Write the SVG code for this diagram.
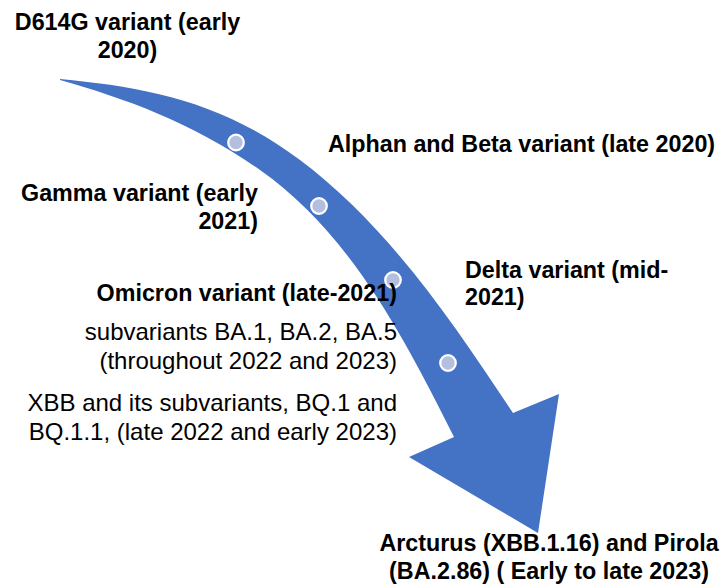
<svg xmlns="http://www.w3.org/2000/svg" width="723" height="587" viewBox="0 0 723 587">
  <style>
    .b { font-family: "Liberation Sans", Arial, sans-serif; font-weight: bold; font-size: 23.3px; fill: #000; }
    .r { font-family: "Liberation Sans", Arial, sans-serif; font-size: 24px; fill: #000; }
    .dot { fill: #B4BFE0; stroke: #fff; stroke-width: 2.2; }
  </style>
  <rect width="723" height="587" fill="#fff"/>

  <!-- curved timeline arrow: outer edge, arrowhead, inner edge back to the pointed tail -->
  <g id="connectors">
    <path id="timeline-arrow" fill="#4472C4"
      d="M60,79 C143,87 220,100 300,160 C388,226 452,321 513,413
         L559,394 L538,533 L409,457 L454,437
         C405,339 350,233 260,170 C193,123 127,99 60,80 Z"/>
  </g>

  <!-- milestone dots -->
  <g id="dot-1"><circle class="dot" cx="236" cy="142.5" r="7.8"/></g>
  <g id="dot-2"><circle class="dot" cx="319" cy="206" r="7.8"/></g>
  <g id="dot-3"><circle class="dot" cx="393" cy="280" r="7.8"/></g>
  <g id="dot-4"><circle class="dot" cx="448" cy="363" r="7.8"/></g>

  <g id="d614g">
    <text class="b" text-anchor="middle" x="127.5" y="30">D614G variant (early</text>
    <text class="b" text-anchor="middle" x="127.5" y="58">2020)</text>
  </g>
  <g id="alpha-beta">
    <text class="b" x="328" y="151.5">Alphan and Beta variant (late 2020)</text>
  </g>
  <g id="gamma">
    <text class="b" text-anchor="end" x="258" y="201">Gamma variant (early</text>
    <text class="b" text-anchor="end" x="258" y="229">2021)</text>
  </g>
  <g id="delta">
    <text class="b" x="465" y="278">Delta variant (mid-</text>
    <text class="b" x="465" y="305">2021)</text>
  </g>
  <g id="omicron">
    <text class="b" text-anchor="end" x="397" y="301">Omicron variant (late-2021)</text>
    <text class="r" text-anchor="end" x="397" y="340">subvariants BA.1, BA.2, BA.5</text>
    <text class="r" text-anchor="end" x="397" y="369">(throughout 2022 and 2023)</text>
    <text class="r" text-anchor="end" x="397" y="411">XBB and its subvariants, BQ.1 and</text>
    <text class="r" text-anchor="end" x="397" y="440">BQ.1.1, (late 2022 and early 2023)</text>
  </g>
  <g id="arcturus-pirola">
    <text class="b" text-anchor="middle" x="549" y="551">Arcturus (XBB.1.16) and Pirola</text>
    <text class="b" text-anchor="middle" x="549" y="579">(BA.2.86) ( Early to late 2023)</text>
  </g>
</svg>
